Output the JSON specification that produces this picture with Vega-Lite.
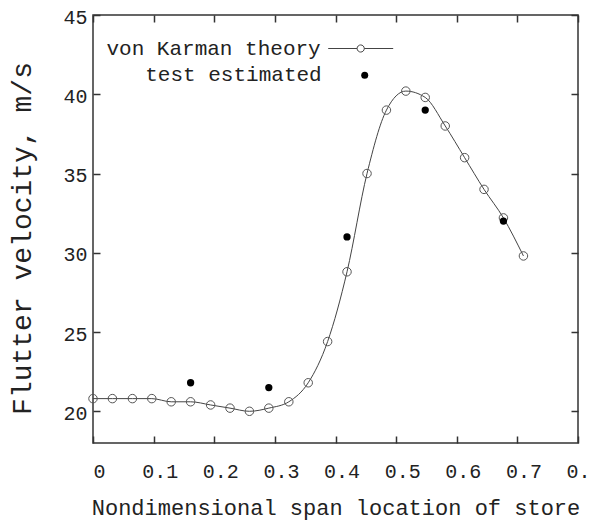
{
  "$schema": "https://vega.github.io/schema/vega-lite/v6.json",
  "width": 485,
  "height": 428,
  "autosize": {"type": "none"},
  "padding": {"left": 93, "top": 15, "right": 11, "bottom": 82},
  "background": "white",
  "config": {
    "view": {"stroke": "#333", "strokeWidth": 1.5},
    "font": "Liberation Mono",
    "axis": {"labelFont": "Liberation Mono", "titleFont": "Liberation Mono", "titleFontWeight": "normal", "labelColor": "#222", "titleColor": "#222", "grid": false, "domain": false, "tickColor": "#333", "tickWidth": 1.5}
  },
  "datasets": {
    "theory": [
      {"span": 0.0, "velocity": 20.8, "series": "von Karman theory"},
      {"span": 0.032, "velocity": 20.8, "series": "von Karman theory"},
      {"span": 0.065, "velocity": 20.8, "series": "von Karman theory"},
      {"span": 0.097, "velocity": 20.8, "series": "von Karman theory"},
      {"span": 0.129, "velocity": 20.6, "series": "von Karman theory"},
      {"span": 0.161, "velocity": 20.6, "series": "von Karman theory"},
      {"span": 0.194, "velocity": 20.4, "series": "von Karman theory"},
      {"span": 0.226, "velocity": 20.2, "series": "von Karman theory"},
      {"span": 0.258, "velocity": 20.0, "series": "von Karman theory"},
      {"span": 0.29, "velocity": 20.2, "series": "von Karman theory"},
      {"span": 0.323, "velocity": 20.6, "series": "von Karman theory"},
      {"span": 0.355, "velocity": 21.8, "series": "von Karman theory"},
      {"span": 0.387, "velocity": 24.4, "series": "von Karman theory"},
      {"span": 0.419, "velocity": 28.8, "series": "von Karman theory"},
      {"span": 0.452, "velocity": 35.0, "series": "von Karman theory"},
      {"span": 0.484, "velocity": 39.0, "series": "von Karman theory"},
      {"span": 0.516, "velocity": 40.2, "series": "von Karman theory"},
      {"span": 0.548, "velocity": 39.8, "series": "von Karman theory"},
      {"span": 0.581, "velocity": 38.0, "series": "von Karman theory"},
      {"span": 0.613, "velocity": 36.0, "series": "von Karman theory"},
      {"span": 0.645, "velocity": 34.0, "series": "von Karman theory"},
      {"span": 0.677, "velocity": 32.2, "series": "von Karman theory"},
      {"span": 0.71, "velocity": 29.8, "series": "von Karman theory"}
    ],
    "test": [
      {"span": 0.161, "velocity": 21.8, "series": "test estimated"},
      {"span": 0.29, "velocity": 21.5, "series": "test estimated"},
      {"span": 0.419, "velocity": 31.0, "series": "test estimated"},
      {"span": 0.548, "velocity": 39.0, "series": "test estimated"},
      {"span": 0.677, "velocity": 32.0, "series": "test estimated"}
    ]
  },
  "layer": [
    {
      "data": {"name": "theory"},
      "mark": {"type": "line", "strokeWidth": 1, "interpolate": "monotone"},
      "encoding": {
        "x": {"field": "span", "type": "quantitative", "scale": {"domain": [0, 0.8], "nice": false, "zero": false},
          "axis": {"orient": "bottom", "values": [0, 0.1, 0.2, 0.3, 0.4, 0.5, 0.6, 0.7, 0.8], "format": ".1~f", "tickSize": -7, "labelFontSize": 20, "labelPadding": 35, "labelOffset": 6, "labelBaseline": "middle", "labelFlush": false, "labelOverlap": false, "labelBound": false,
            "title": "Nondimensional span location of store", "titleFontSize": 22, "titleX": 242.5, "titleY": 64, "titleAlign": "center", "titleBaseline": "middle"}},
        "y": {"field": "velocity", "type": "quantitative", "scale": {"domain": [18, 45], "nice": false, "zero": false},
          "axis": {"orient": "left", "values": [20, 25, 30, 35, 40, 45], "tickSize": -7, "labelFontSize": 20, "labelPadding": 13, "labelOffset": 2, "labelFlush": false, "labelOverlap": false, "labelBound": false,
            "title": "Flutter velocity, m/s", "titleFontSize": 28, "titleAngle": -90, "titleX": -71, "titleY": 223, "titleAlign": "center", "titleBaseline": "middle"}},
        "stroke": {"field": "series", "type": "nominal", "scale": {"range": ["#444"]},
          "legend": {"orient": "none", "legendX": 234.7, "legendY": 0.5, "title": null, "padding": 0,
            "symbolType": "M-1,0H-0.11M0.11,0H1M0.11,0A0.11,0.11,0,1,1,-0.11,0A0.11,0.11,0,1,1,0.11,0",
            "symbolSize": 4225, "symbolStrokeWidth": 1, "symbolStrokeColor": "#444", "symbolFillColor": "transparent",
            "labelAlign": "right", "labelOffset": -73, "labelFontSize": 21, "labelFont": "Liberation Mono", "labelColor": "#222", "labelLimit": 0}}
      }
    },
    {
      "data": {"name": "theory"},
      "mark": {"type": "point", "shape": "circle", "filled": false, "stroke": "#555", "strokeWidth": 1, "size": 72, "opacity": 1},
      "encoding": {
        "x": {"field": "span", "type": "quantitative", "axis": null},
        "y": {"field": "velocity", "type": "quantitative", "axis": null}
      }
    },
    {
      "data": {"name": "test"},
      "mark": {"type": "point", "shape": "circle", "filled": true, "size": 53, "opacity": 1},
      "encoding": {
        "x": {"field": "span", "type": "quantitative",
          "axis": {"orient": "top", "values": [0, 0.1, 0.2, 0.3, 0.4, 0.5, 0.6, 0.7, 0.8], "labels": false, "tickSize": -7, "title": null}},
        "y": {"field": "velocity", "type": "quantitative",
          "axis": {"orient": "right", "values": [20, 25, 30, 35, 40, 45], "labels": false, "tickSize": -7, "title": null}},
        "fill": {"field": "series", "type": "nominal", "scale": {"range": ["black"]},
          "legend": {"orient": "none", "legendX": 261.2, "legendY": 49.7, "title": null, "padding": 0,
            "symbolType": "circle", "symbolSize": 49, "symbolStrokeWidth": 0, "symbolFillColor": "black",
            "labelAlign": "right", "labelOffset": -53.5, "labelFontSize": 21, "labelFont": "Liberation Mono", "labelColor": "#222", "labelLimit": 0}}
      }
    }
  ],
  "resolve": {"axis": {"x": "independent", "y": "independent"}}
}
